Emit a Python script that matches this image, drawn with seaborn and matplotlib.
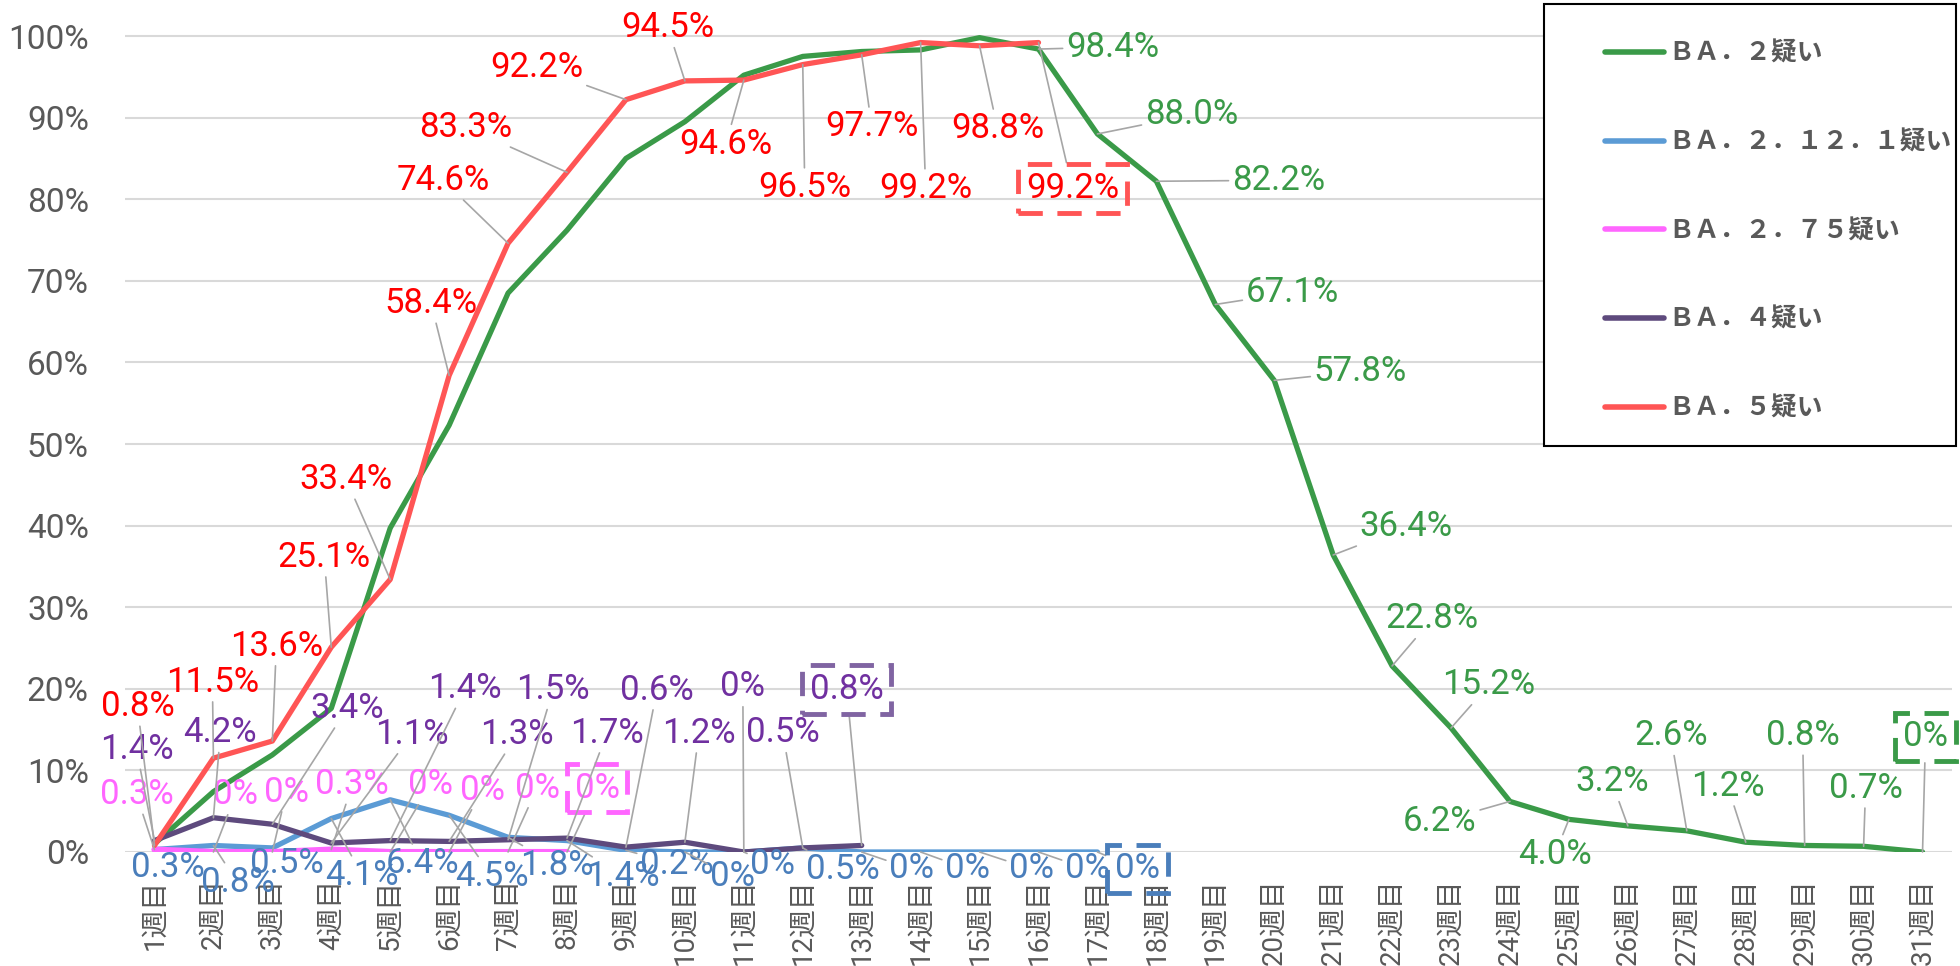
import matplotlib
matplotlib.use("Agg")
import matplotlib.pyplot as plt
from matplotlib.patches import Rectangle
import seaborn as sns
import pandas as pd
import numpy as np

# x categories
weeks = ["1週目", "2週目", "3週目", "4週目", "5週目", "6週目", "7週目", "8週目",
         "9週目", "10週目", "11週目", "12週目", "13週目", "14週目", "15週目", "16週目",
         "17週目", "18週目", "19週目", "20週目", "21週目", "22週目", "23週目", "24週目",
         "25週目", "26週目", "27週目", "28週目", "29週目", "30週目", "31週目"]

# shares in %
ba2 = [1.0, 7.4, 11.9, 17.6, 39.7, 52.3, 68.5, 76.2, 85.0, 89.5, 95.2, 97.5, 98.1, 98.3,
       99.8, 98.4, 88.0, 82.2, 67.1, 57.8, 36.4, 22.8, 15.2, 6.2, 4.0, 3.2, 2.6, 1.2, 0.8,
       0.7, 0.0]
ba2121 = [0.3, 0.8, 0.5, 4.1, 6.4, 4.5, 1.8, 1.4, 0.2, 0.0, 0.0, 0.5, 0.0, 0.0, 0.0, 0.0, 0.0]
ba275 = [0.3, 0.0, 0.0, 0.3, 0.0, 0.0, 0.0, 0.0]
ba4 = [1.4, 4.2, 3.4, 1.1, 1.4, 1.3, 1.5, 1.7, 0.6, 1.2, 0.0, 0.5, 0.8]
ba5 = [0.8, 11.5, 13.6, 25.1, 33.4, 58.4, 74.6, 83.3, 92.2, 94.5, 94.6, 96.5, 97.7, 99.2,
       98.8, 99.2]

names = ["ＢＡ．２疑い", "ＢＡ．２．１２．１疑い", "ＢＡ．２．７５疑い", "ＢＡ．４疑い", "ＢＡ．５疑い"]
series = [ba2, ba2121, ba275, ba4, ba5]
line_colors = ["#3A9A48", "#5B9BD5", "#FF66FF", "#5E4A7D", "#FF5555"]
line_widths = [3.8, 3.8, 4.4, 3.8, 3.8]
label_colors = ["#3A9A48", "#4A7EBB", "#FF66FF", "#7030A0", "#FF0000"]
box_colors = ["#3A9A48", "#4A7EBB", "#FF66FF", "#8064A2", "#FF5555"]

# where each data label sits, offset from its point in pixels (dx, dy up)
ba2_off = {15: (74, 2), 16: (94, 19), 17: (122, 1), 18: (77, 12), 19: (86, 9), 20: (73, 28),
           21: (40, 47), 22: (38, 43), 23: (-70, -20), 24: (-14, -35), 25: (-16, 44),
           26: (-16, 95), 27: (-18, 56), 28: (-2, 110), 29: (2, 58), 30: (3, 115)}
ba2121_off = {0: (13, -18), 1: (24, -37), 2: (15, -16), 3: (31, -57), 4: (32, -64),
              5: (43, -61), 6: (49, -28), 7: (56, -36), 8: (51, -14), 9: (48, -25),
              10: (29, -13), 11: (40, -22), 12: (50, -17), 13: (47, -17), 14: (52, -17),
              15: (49, -17), 16: (40, -17)}
ba275_off = {0: (-18, 55), 1: (22, 57), 2: (14, 60), 3: (21, 65), 4: (40, 67), 5: (33, 62),
             6: (29, 64), 7: (30, 64)}
ba4_off = {0: (-18, 91), 1: (7, 85), 2: (75, 116), 3: (81, 109), 4: (75, 152), 5: (68, 107),
           6: (45, 150), 7: (40, 105), 8: (31, 157), 9: (14, 109), 10: (-1, 165),
           11: (-20, 115), 12: (-15, 156)}
ba5_off = {0: (-17, 139), 1: (-1, 76), 2: (4, 95), 3: (-7, 90), 4: (-44, 100), 5: (-18, 72),
           6: (-65, 63), 7: (-101, 45), 8: (-89, 32), 9: (-17, 53), 10: (-18, -64),
           11: (2, -123), 12: (10, -72), 13: (5, -146), 14: (18, -83), 15: (34, -146)}
offsets = [ba2_off, ba2121_off, ba275_off, ba4_off, ba5_off]

rows = []
for name, vals in zip(names, series):
    for i, v in enumerate(vals):
        rows.append({"series": name, "week": i, "share": v / 100})
df = pd.DataFrame(rows)

sns.set_style("white")
plt.rcParams["font.family"] = ["Roboto", "Noto Sans CJK JP", "DejaVu Sans"]

fig = plt.figure(figsize=(19.6, 9.66), dpi=100)
ax = fig.add_axes([125 / 1960, (966 - 852) / 966, 1827 / 1960, (852 - 19.7) / 966])

sns.lineplot(data=df, x="week", y="share", hue="series", hue_order=names,
             palette=line_colors, lw=3.8, errorbar=None, ax=ax,
             solid_joinstyle="round", solid_capstyle="round")
for line, lw in zip(ax.get_lines(), line_widths):
    line.set_linewidth(lw)

ax.set_xlim(-0.5, 30.5)
ax.set_ylim(0, 1.02)
ax.set_xticks(range(len(weeks)))
ax.set_xticklabels(weeks, rotation=90, fontsize=20, color="#595959")
ax.set_yticks(np.arange(0, 1.01, 0.1))
ax.set_yticklabels([f"{t}%" for t in range(0, 101, 10)], fontsize=24, color="#595959")
ax.tick_params(axis="x", length=0, pad=19)
ax.tick_params(axis="y", length=0, pad=26)
ax.set_xlabel("")
ax.set_ylabel("")
for s in ax.spines.values():
    s.set_visible(False)
ax.yaxis.grid(True, color="#D9D9D9", lw=1.5)
ax.xaxis.grid(False)
ax.set_axisbelow(True)

# data labels with leader lines
for k, vals in enumerate(series):
    last = max(offsets[k])
    for i, (dx, dy) in offsets[k].items():
        v = vals[i]
        txt = "0%" if v == 0 else f"{v:.1f}%"
        arrow = None
        if np.hypot(dx, dy) > 30:
            arrow = dict(arrowstyle="-", color="#A6A6A6", lw=1.2, shrinkA=0, shrinkB=0)
        bbox = None
        if i == last:
            bbox = dict(boxstyle="square,pad=0.22", fill=False, ec=box_colors[k], lw=3.5,
                        ls=(0, (5, 3)))
        ax.annotate(txt, xy=(i, v / 100), xytext=(dx, dy), textcoords="offset pixels",
                    ha="center", va="center", fontsize=25, color=label_colors[k],
                    arrowprops=arrow, bbox=bbox, annotation_clip=False, zorder=6)

# legend in its own framed box
handles, labels = ax.get_legend_handles_labels()
ax.get_legend().remove()
fig.add_artist(Rectangle((1544 / 1960, 1 - 446 / 966), 412 / 1960, 442 / 966,
                         transform=fig.transFigure, facecolor="white", edgecolor="black",
                         lw=1.5, zorder=3))
leg = fig.legend(handles, labels, loc="upper left", bbox_to_anchor=(1592 / 1960, 1 - 27 / 966),
                 frameon=False, borderpad=0, handlelength=2.3, handletextpad=0.15,
                 labelspacing=2.4, prop={"family": ["Noto Sans CJK JP"], "weight": "bold",
                                         "size": 18.5})
for t in leg.get_texts():
    t.set_color("#595959")
for h in leg.legend_handles:
    h.set_linewidth(4)
    h.set_solid_capstyle("round")

fig.savefig("out.png", dpi=100)
